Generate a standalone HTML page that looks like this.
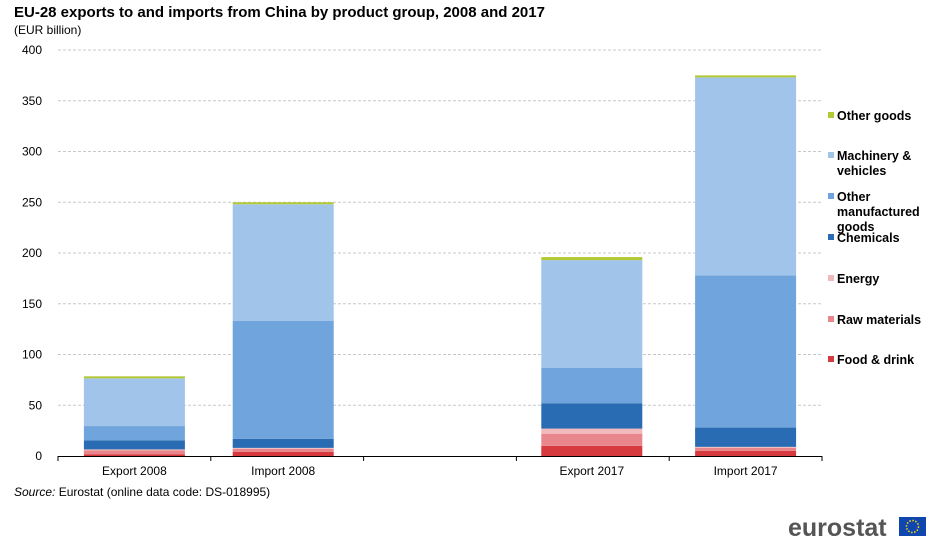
<!DOCTYPE html>
<html><head><meta charset="utf-8"><style>
body{margin:0;width:941px;height:549px;background:#fff;font-family:"Liberation Sans",Arial,sans-serif;overflow:hidden}
</style></head><body>
<svg width="941" height="549" xmlns="http://www.w3.org/2000/svg" font-family="Liberation Sans, Arial, sans-serif">
<text x="14" y="17" font-size="15" font-weight="bold" fill="#000">EU-28 exports to and imports from China by product group, 2008 and 2017</text>
<text x="14" y="34" font-size="12" fill="#000">(EUR billion)</text>
<g id="grid"></g><g id="bars"></g><g id="axes"></g><g id="legend"></g>
<text x="14" y="496" font-size="12" fill="#000"><tspan font-style="italic">Source:</tspan> Eurostat (online data code: DS-018995)</text>
<text x="788" y="536" font-size="25" font-weight="bold" fill="#555">eurostat</text>
<rect x="899" y="517" width="27" height="19" fill="#0f47af"/>
<circle cx="912.5" cy="526.5" r="6" fill="none" stroke="#ffd700" stroke-width="1.5" stroke-dasharray="1.5 1.6"/>
</svg>
<script>
const categories=["Export 2008","Import 2008","","Export 2017","Import 2017"];
const seriesNames=["Food & drink","Raw materials","Energy","Chemicals","Other manufactured goods","Machinery & vehicles","Other goods"];
const foodDrink=[1.5,4,0,10,5];
const rawMaterials=[4,3,0,12,3];
const energy=[1,1,0,5,1];
const chemicals=[9,9,0,25,19];
const otherManufactured=[14,116,0,35,150];
const machinery=[47,115,0,106,195];
const otherGoods=[2,2,0,3,2];
const yTicks=[0,50,100,150,200,250,300,350,400];
const colors=["#d63a3f","#e8868b","#f2b9bc","#2a6cb3","#6fa5dc","#a1c4ea","#b3c934"];
const series=[foodDrink,rawMaterials,energy,chemicals,otherManufactured,machinery,otherGoods];
const NS="http://www.w3.org/2000/svg";
const x0=58,x1=822,y0=456,yTop=50,yMax=400;
const y=v=>y0-(v/yMax)*(y0-yTop);
const slot=(x1-x0)/categories.length;
const xc=i=>x0+slot*(i+0.5)-(i===1?4:0)-(i===3?1:0);
const bw=101;
function mk(t,a,p){const e=document.createElementNS(NS,t);for(const k in a)e.setAttribute(k,a[k]);p.appendChild(e);return e;}
const grid=document.getElementById('grid'),bars=document.getElementById('bars'),axes=document.getElementById('axes'),leg=document.getElementById('legend');
yTicks.forEach(t=>{
  if(t>0){const l=mk('line',{x1:x0,x2:x1,y1:y(t),y2:y(t),stroke:'#c8c8c8','stroke-dasharray':'3 2'},grid);
  
  }
  const tx=mk('text',{x:42,y:y(t)+4,'font-size':12,'text-anchor':'end',fill:'#000'},axes);tx.textContent=t;
  
  
});
categories.forEach((c,i)=>{
  let base=0;
  series.forEach((s,j)=>{
    const v=s[i];if(!v)return;
    const r=mk('rect',{x:xc(i)-bw/2,y:y(base+v),width:bw,height:y(base)-y(base+v),fill:colors[j]},bars);
    
    
    base+=v;
  });
  if(c){const t=mk('text',{x:xc(i),y:475,'font-size':12,'text-anchor':'middle',fill:'#000'},axes);t.textContent=c;
  
  }
});
const ax=mk('line',{x1:x0,x2:x1,y1:y0+0.5,y2:y0+0.5,stroke:'#000'},axes);


for(let i=0;i<=categories.length;i++){const tk=mk('line',{x1:x0+slot*i,x2:x0+slot*i,y1:y0,y2:y0+5,stroke:'#000'},axes);

}
const legRows=[[6,120,["Other goods"]],[5,160,["Machinery &","vehicles"]],[4,201,["Other","manufactured","goods"]],[3,242,["Chemicals"]],[2,283,["Energy"]],[1,324,["Raw materials"]],[0,364,["Food & drink"]]];
legRows.forEach(([j,ly,lines])=>{
  const g=mk('g',{},leg);
  
  
  mk('rect',{x:828,y:ly-8,width:6,height:6,fill:colors[j]},g);
  lines.forEach((ln,k)=>{const t=mk('text',{x:837,y:ly+k*15,'font-size':12.5,'font-weight':'bold',fill:'#000'},g);t.textContent=ln;});
});
</script>
</body></html>
